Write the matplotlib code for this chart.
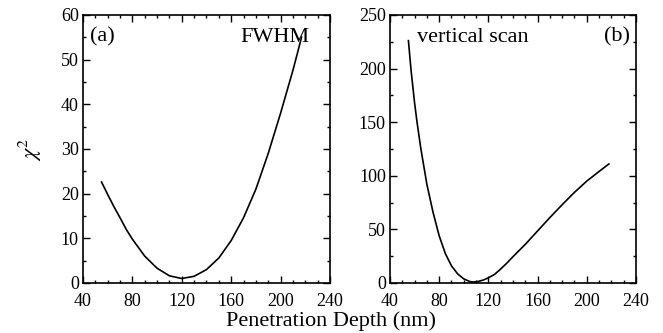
import numpy as np
import matplotlib
matplotlib.use("Agg")
import matplotlib.pyplot as plt
from matplotlib.ticker import MultipleLocator

plt.rcParams['font.family'] = ['Liberation Serif', 'DejaVu Serif']
plt.rcParams['mathtext.fontset'] = 'stix'

# panel (a): FWHM fit
depth_a = [55, 60, 65, 70, 75, 80, 90, 100, 110, 120, 130, 140, 150, 160, 170, 180, 190,
           200, 210, 217]
chi2_a = [22.6, 19.8, 17.1, 14.6, 12.0, 9.8, 6.0, 3.3, 1.6, 1.0, 1.5, 3.0, 5.6, 9.5, 14.6,
          21.0, 29.0, 38.0, 47.6, 55.0]

# panel (b): vertical scan
depth_b = [55, 57, 60, 62, 65, 70, 75, 80, 85, 90, 95, 100, 105, 108, 112, 116, 120, 125, 130,
           135, 140, 150, 160, 170, 180, 190, 200, 210, 218]
chi2_b = [226, 200, 168, 150, 126, 92, 66, 44, 27.5, 16, 8.5, 3.8, 1.3, 0.9, 1.5, 2.8, 4.8, 8,
          13, 18.5, 24.5, 36, 48.5, 61, 73, 84.5, 95, 104, 111]

fig = plt.figure(figsize=(6.63, 3.33), dpi=100)
ax1 = fig.add_axes([0.1252, 0.1502, 0.3725, 0.805])
ax2 = fig.add_axes([0.5882, 0.1502, 0.371, 0.805])

for ax in (ax1, ax2):
    ax.set_xlim(40, 240)
    ax.xaxis.set_major_locator(MultipleLocator(40))
    ax.xaxis.set_minor_locator(MultipleLocator(10))
    ax.tick_params(which='both', direction='in', top=True, right=True, labelsize=13, width=1)
    ax.tick_params(which='major', length=5)
    ax.tick_params(which='minor', length=2.5)
    ax.tick_params(axis='x', which='major', pad=7)
    ax.tick_params(axis='y', which='major', pad=3)
    for s in ax.spines.values():
        s.set_linewidth(1.2)

ax1.plot(depth_a, chi2_a, color='black', lw=1.2)
ax1.set_ylim(0, 60)
ax1.yaxis.set_major_locator(MultipleLocator(10))
ax1.yaxis.set_minor_locator(MultipleLocator(5))
ax1.set_ylabel(r'$\chi^2$', fontsize=16, labelpad=12)
ax1.text(0.03, 0.9, '(a)', transform=ax1.transAxes, fontsize=16, ha='left', va='baseline')
ax1.text(0.918, 0.9, 'FWHM', transform=ax1.transAxes, fontsize=16, ha='right', va='baseline')

ax2.plot(depth_b, chi2_b, color='black', lw=1.2)
ax2.set_ylim(0, 250)
ax2.yaxis.set_major_locator(MultipleLocator(50))
ax2.yaxis.set_minor_locator(MultipleLocator(25))
ax2.text(0.11, 0.9, 'vertical scan', transform=ax2.transAxes, fontsize=16, ha='left', va='baseline')
ax2.text(0.976, 0.9, '(b)', transform=ax2.transAxes, fontsize=16, ha='right', va='baseline')

fig.text(0.5, 0.005, 'Penetration Depth (nm)', fontsize=16, ha='center', va='bottom')

fig.savefig('out.png', dpi=100)
